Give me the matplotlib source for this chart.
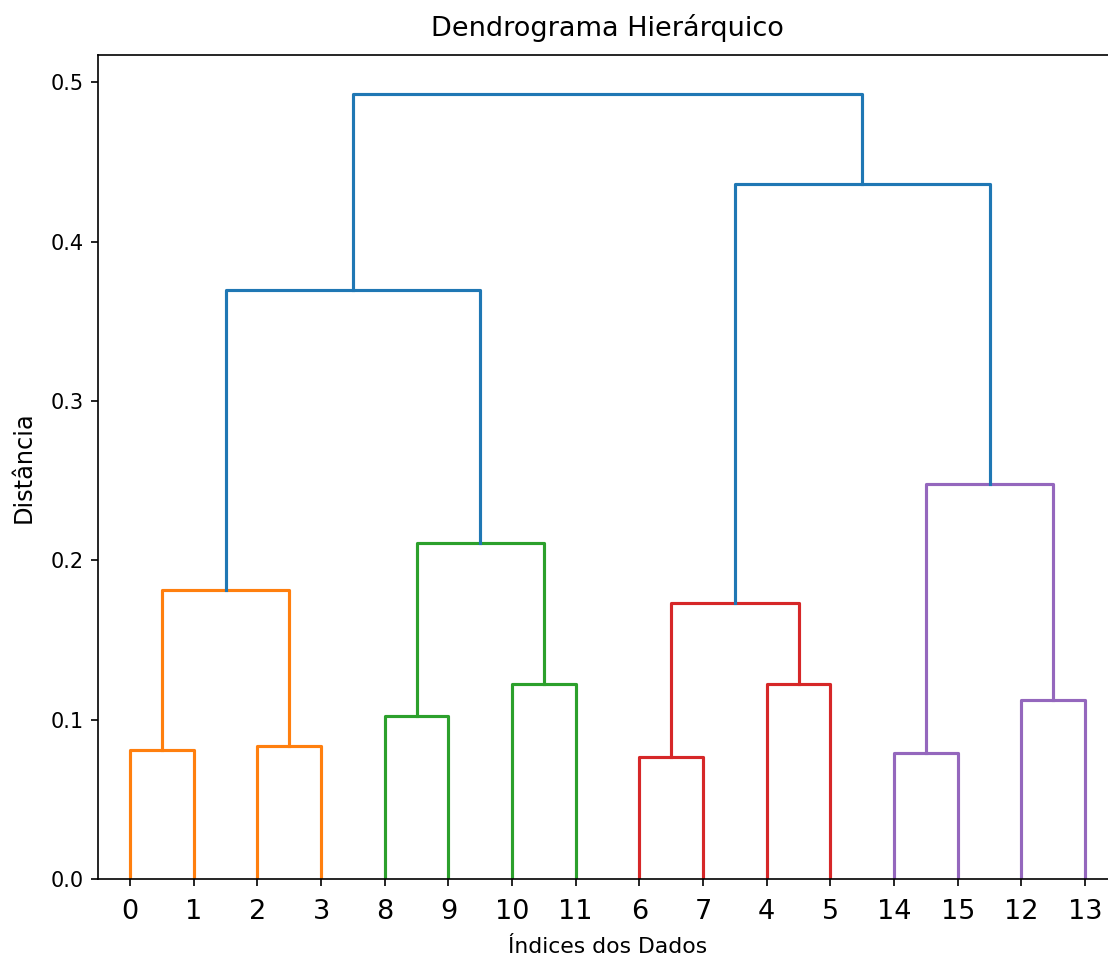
import matplotlib
matplotlib.use("Agg")
import matplotlib.pyplot as plt

# Linkage: (left child, right child, distance); leaves 0..15, new clusters 16..30
n_leaves = 16
link_left = [6, 14, 0, 2, 8, 12, 10, 4, 16, 18, 20, 17, 25, 24, 28]
link_right = [7, 15, 1, 3, 9, 13, 11, 5, 23, 19, 22, 21, 26, 27, 29]
link_dist = [0.0767, 0.0788, 0.0809, 0.0834, 0.1023, 0.1123, 0.1221, 0.1222,
             0.1735, 0.1813, 0.2108, 0.2478, 0.3695, 0.4360, 0.4925]
cluster_colors = ["C1", "C2", "C3", "C4"]
above_color = "C0"

fig = plt.figure(figsize=(1108 / 150, 960 / 150), dpi=150)
ax = fig.add_axes([98.2 / 1108, 81 / 960, 1018.7 / 1108, 824 / 960])

max_d = max(link_dist)
threshold = 0.7 * max_d

leaf_order = []
color_iter = iter(cluster_colors)


def place(node, assigned=None):
    """Return (x, height) of node; draws links recursively."""
    if node < n_leaves:
        leaf_order.append(node)
        return 5 + 10 * (len(leaf_order) - 1), 0.0
    i = node - n_leaves
    d = link_dist[i]
    if d < threshold and assigned is None:
        assigned = next(color_iter)
    col = assigned if assigned is not None else above_color
    xl, yl = place(link_left[i], assigned)
    xr, yr = place(link_right[i], assigned)
    ax.plot([xl, xl, xr, xr], [yl, d, d, yr], color=col, lw=1.5)
    return (xl + xr) / 2, d


root = n_leaves + len(link_dist) - 1
place(root)

ax.set_xlim(0, 10 * n_leaves)
ax.set_ylim(0, max_d * 1.05)
ax.spines["right"].set_visible(False)
ax.set_xticks([5 + 10 * k for k in range(n_leaves)])
ax.set_xticklabels([str(v) for v in leaf_order], fontsize=13)
ax.tick_params(axis="x", pad=6)
ax.set_yticks([0.0, 0.1, 0.2, 0.3, 0.4, 0.5])
ax.tick_params(axis="y", labelsize=10)
ax.set_title("Dendrograma Hierárquico", fontsize=13, pad=9)
ax.set_xlabel("Índices dos Dados", fontsize=10.5, labelpad=6)
ax.set_ylabel("Distância", fontsize=11.5, labelpad=7)

fig.savefig("out.png", dpi=150)
